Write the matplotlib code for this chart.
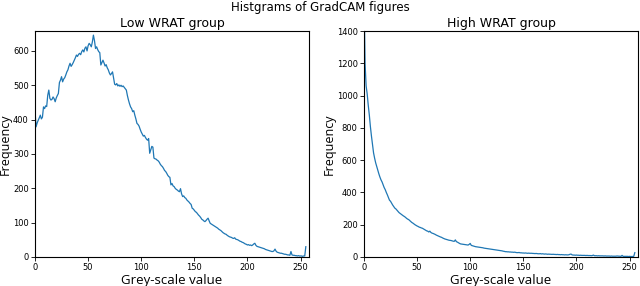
import numpy as np
import matplotlib
matplotlib.use("Agg")
import matplotlib.pyplot as plt

# histogram counts per grey level (0..255)
low_counts = [
    427, 379, 390, 398, 405, 413, 402, 407, 437, 432, 440, 438, 471, 486, 462, 457,
    459, 466, 461, 452, 463, 470, 476, 508, 515, 525, 510, 518, 522, 530, 539, 545,
    556, 564, 555, 560, 566, 573, 580, 588, 584, 590, 593, 589, 598, 603, 597, 608,
    612, 600, 615, 622, 618, 612, 626, 646, 630, 607, 612, 604, 598, 595, 559, 566,
    573, 565, 556, 560, 551, 545, 536, 530, 534, 539, 520, 503, 501, 505, 498, 501,
    497, 500, 496, 498, 494, 490, 486, 470, 457, 446, 437, 432, 423, 426, 413, 402,
    389, 386, 381, 372, 364, 358, 352, 354, 348, 343, 340, 345, 302, 312, 322, 320,
    288, 286, 285, 282, 280, 276, 270, 266, 263, 258, 252, 249, 244, 238, 234, 232,
    210, 214, 207, 205, 200, 197, 195, 192, 190, 199, 184, 176, 178, 173, 171, 166,
    163, 160, 156, 153, 142, 140, 136, 132, 130, 126, 122, 119, 115, 110, 108, 105,
    103, 106, 110, 113, 105, 98, 96, 94, 92, 90, 88, 86, 84, 81, 79, 77,
    74, 71, 69, 67, 66, 63, 61, 59, 58, 57, 55, 54, 56, 52, 51, 50,
    48, 46, 45, 43, 42, 40, 38, 37, 35, 36, 34, 35, 33, 35, 38, 40,
    34, 31, 30, 29, 28, 27, 26, 25, 24, 22, 21, 20, 19, 18, 17, 16,
    16, 18, 23, 17, 14, 13, 12, 11, 11, 10, 9, 8, 8, 7, 6, 6,
    5, 16, 6, 5, 5, 4, 4, 3, 4, 3, 3, 3, 2, 3, 3, 30,
]

high_counts = [
    1650, 1200, 1060, 1010, 940, 880, 809, 750, 700, 645, 612, 583, 560, 535, 515, 495,
    478, 465, 448, 430, 417, 400, 385, 368, 352, 345, 333, 322, 312, 303, 298, 290,
    282, 275, 270, 265, 260, 255, 251, 246, 240, 235, 232, 226, 220, 214, 210, 205,
    200, 196, 192, 189, 185, 183, 180, 178, 174, 170, 166, 162, 160, 155, 160, 152,
    148, 146, 143, 140, 136, 133, 130, 127, 124, 122, 118, 115, 112, 110, 108, 106,
    104, 103, 102, 100, 98, 97, 106, 95, 92, 88, 84, 81, 80, 79, 78, 77,
    76, 75, 74, 78, 84, 72, 70, 68, 66, 64, 63, 62, 61, 60, 59, 58,
    57, 55, 54, 53, 52, 51, 50, 49, 48, 47, 46, 45, 44, 43, 42, 41,
    40, 39, 38, 36, 35, 33, 33, 32, 32, 31, 31, 30, 30, 29, 30, 28,
    27, 27, 28, 26, 26, 25, 25, 24, 25, 24, 23, 24, 23, 23, 23, 22,
    22, 21, 22, 21, 20, 20, 21, 19, 20, 19, 18, 19, 18, 17, 18, 17,
    17, 16, 17, 16, 16, 15, 16, 15, 15, 14, 15, 14, 14, 13, 14, 13,
    13, 14, 17, 18, 13, 12, 12, 11, 12, 11, 11, 10, 11, 10, 10, 10,
    10, 9, 10, 9, 9, 9, 8, 9, 12, 8, 8, 8, 7, 8, 7, 7,
    7, 7, 6, 7, 6, 6, 6, 6, 5, 6, 5, 5, 5, 5, 6, 6,
    5, 5, 4, 10, 4, 4, 4, 4, 4, 3, 4, 3, 3, 3, 4, 27,
]

titles = ["Low WRAT group", "High WRAT group"]
ylims = [658, 1400]
xticks = [0, 50, 100, 150, 200, 250]

grey = np.arange(256)

fig = plt.figure(figsize=(6.4, 2.86), dpi=100)
fig.suptitle("Histgrams of GradCAM figures", fontsize=8.5, y=0.995)

lefts = [35 / 640, 364 / 640]
for i, counts in enumerate([low_counts, high_counts]):
    ax = fig.add_axes([lefts[i], 0.1014, 274 / 640, 0.7902])
    ax.plot(grey, counts, color="#1f77b4", lw=0.9)
    ax.set_xlim(0, 258)
    ax.set_ylim(0, ylims[i])
    ax.set_xticks(xticks)
    ax.tick_params(labelsize=6, length=3, width=0.6, pad=1.5)
    ax.set_title(titles[i], fontsize=9, pad=3)
    ax.set_xlabel("Grey-scale value", fontsize=9.5, family="Open Sans", labelpad=1)
    ax.set_ylabel("Frequency", fontsize=9, family="Open Sans", labelpad=0.5)
    for s in ax.spines.values():
        s.set_linewidth(0.8)

fig.savefig("out.png", dpi=100)
